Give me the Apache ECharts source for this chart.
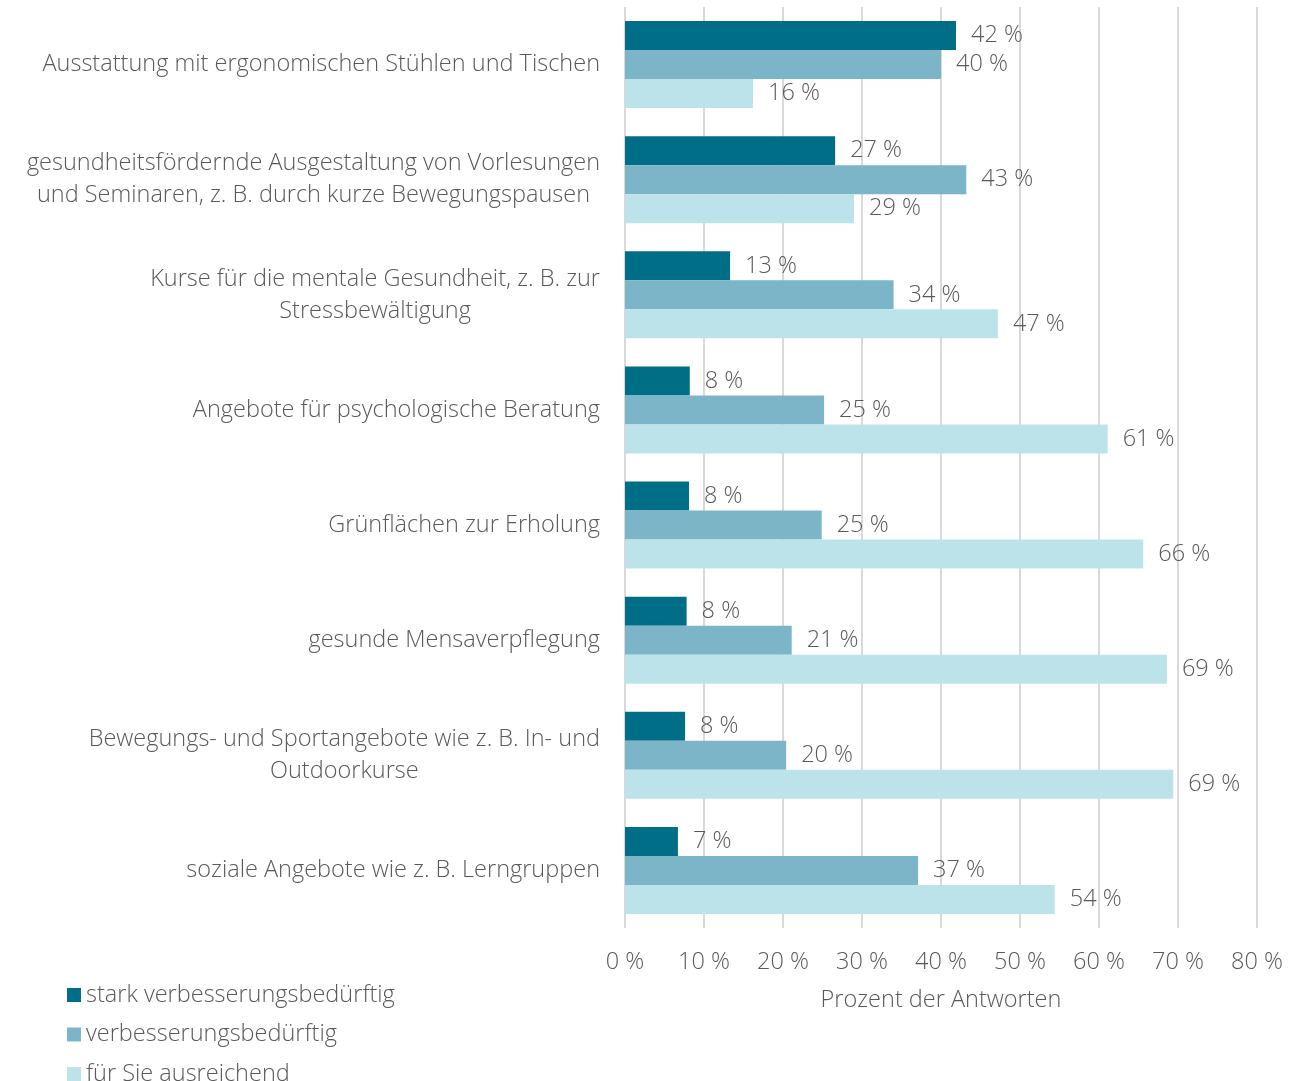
<!DOCTYPE html>
<html>
<head>
<meta charset="utf-8">
<script src="https://cdn.jsdelivr.net/npm/echarts@6/dist/echarts.min.js"></script>
<style>html,body{margin:0;padding:0;background:#fff;}#c{width:1297px;height:1081px;}</style>
</head>
<body>
<div id="c"></div>
<script>
const categories = [
  'Ausstattung mit ergonomischen Stühlen und Tischen',
  'gesundheitsfördernde Ausgestaltung von Vorlesungen\nund Seminaren, z. B. durch kurze Bewegungspausen',
  'Kurse für die mentale Gesundheit, z. B. zur\nStressbewältigung',
  'Angebote für psychologische Beratung',
  'Grünflächen zur Erholung',
  'gesunde Mensaverpflegung',
  'Bewegungs- und Sportangebote wie z. B. In- und\nOutdoorkurse',
  'soziale Angebote wie z. B. Lerngruppen'
];
const seriesNames = ['stark verbesserungsbedürftig', 'verbesserungsbedürftig', 'für Sie ausreichend'];
const starkValues = [41.9, 26.6, 13.3, 8.2, 8.1, 7.8, 7.6, 6.7];
const verbValues = [40.0, 43.2, 34.0, 25.2, 24.9, 21.1, 20.4, 37.1];
const ausreichendValues = [16.2, 29.0, 47.2, 61.1, 65.6, 68.6, 69.4, 54.4];
const xTicks = [0, 10, 20, 30, 40, 50, 60, 70, 80];
const colors = ['#006e87', '#7cb5c7', '#bde3ea'];
const FONT = 'Open Sans';
const TXT = '#595959';
const FS = 23.5;

const chart = echarts.init(document.getElementById('c'));
const mk = (name, data, color) => ({
  name: name, type: 'bar', data: data, barWidth: 29, barGap: '0%',
  itemStyle: { color: color },
  label: {
    show: true, position: 'right', distance: 15,
    formatter: p => Math.round(p.value) + ' %',
    fontFamily: FONT, fontSize: FS, fontWeight: 300, color: TXT
  }
});
chart.setOption({
  animation: false,
  textStyle: { fontFamily: FONT },
  color: colors,
  grid: { left: 625, right: 40, top: 7, bottom: 153 },
  legend: {
    orient: 'vertical', left: 62, top: 978, height: 200,
    itemWidth: 14, itemHeight: 14, itemGap: 15.5,
    icon: 'rect',
    textStyle: { fontFamily: FONT, fontSize: FS, fontWeight: 300, color: TXT },
    data: seriesNames
  },
  xAxis: {
    type: 'value', min: xTicks[0], max: xTicks[xTicks.length - 1], interval: 10,
    name: 'Prozent der Antworten', nameLocation: 'middle', nameGap: 60,
    nameTextStyle: { fontFamily: FONT, fontSize: FS, fontWeight: 300, color: TXT },
    axisLine: { show: false }, axisTick: { show: false },
    axisLabel: { formatter: v => v + ' %', fontFamily: FONT, fontSize: FS, fontWeight: 300, color: TXT, margin: 22 },
    splitLine: { show: true, lineStyle: { color: '#d9d9d9', width: 2 } }
  },
  yAxis: {
    type: 'category', data: categories, inverse: true,
    axisLine: { show: false }, axisTick: { show: false },
    axisLabel: {
      margin: 25, align: 'right',
      formatter: v => v.split('\n').map(l => '{c|' + l + '}').join('\n'),
      rich: { c: { align: 'center', fontFamily: FONT, fontSize: FS, fontWeight: 300, color: TXT, lineHeight: 32 } }
    }
  },
  series: [
    mk(seriesNames[0], starkValues, colors[0]),
    mk(seriesNames[1], verbValues, colors[1]),
    mk(seriesNames[2], ausreichendValues, colors[2])
  ]
});
</script>
</body>
</html>
